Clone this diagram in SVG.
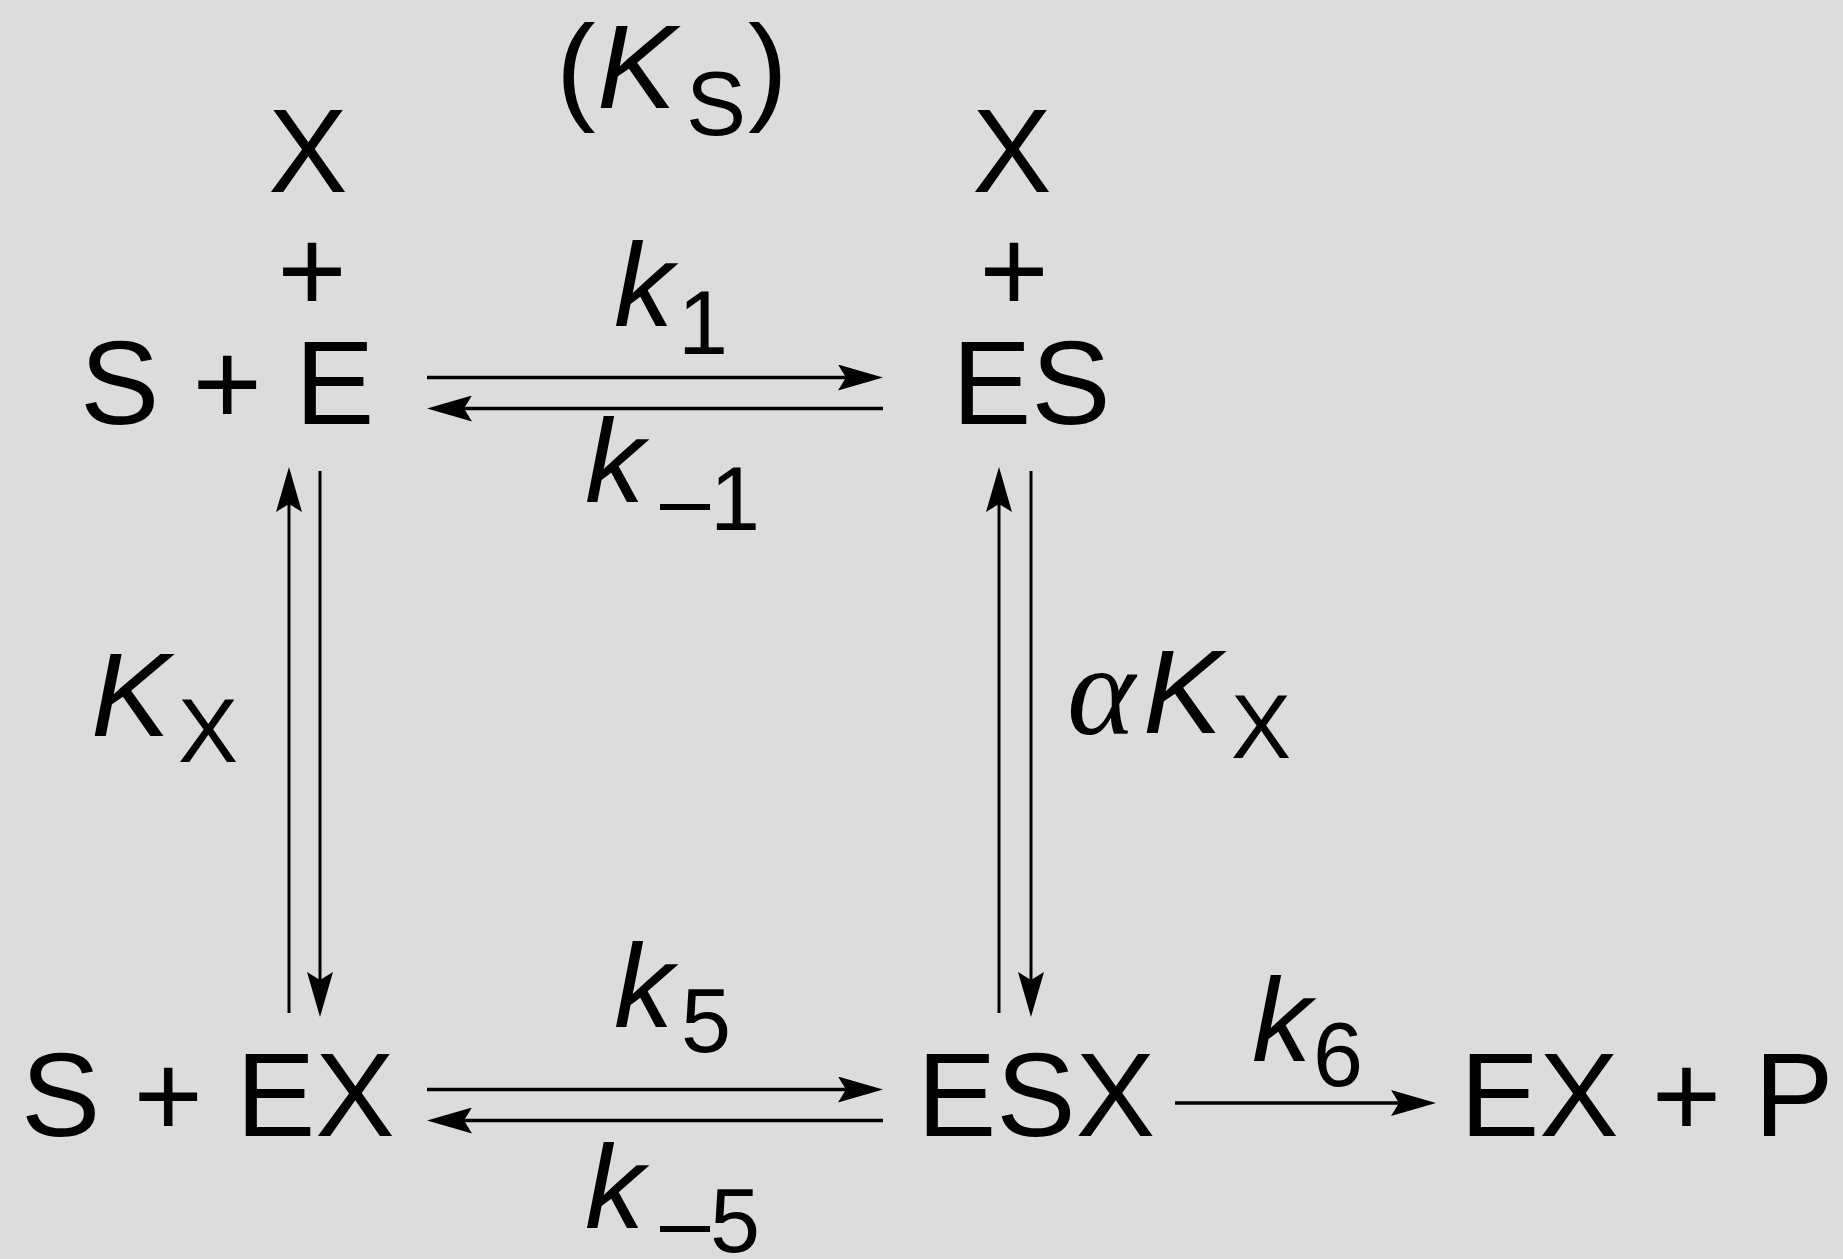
<svg xmlns="http://www.w3.org/2000/svg" width="1843" height="1259" viewBox="0 0 1843 1259">
<style>
.t{font-family:"Liberation Sans",Arial,sans-serif;font-size:119px;fill:#000}
.i{font-family:"Liberation Sans",Arial,sans-serif;font-size:119px;font-style:italic;fill:#000}
.s{font-family:"Liberation Sans",Arial,sans-serif;font-size:90px;fill:#000}
.a{font-family:"Liberation Serif","Times New Roman",serif;font-size:130px;font-style:italic;fill:#000}
.h{stroke:#000;stroke-width:3.5;fill:none}
.v{stroke:#000;stroke-width:3;fill:none}
</style>
<defs>
<marker id="ah" viewBox="0 0 46 26" markerWidth="46" markerHeight="26" refX="35" refY="13" orient="auto" markerUnits="userSpaceOnUse">
<path d="M0,0 L45,13 L0,26 L8,13 Z" fill="#000"/>
</marker>
</defs>
<rect width="1843" height="1259" fill="#dcdcdc"/>
<g id="node-SE">
<text class="t" x="308" y="192" text-anchor="middle">X</text>
<text class="t" x="312" y="311" text-anchor="middle">+</text>
<text class="t" x="80" y="424">S + E</text>
</g>
<g id="node-ES">
<text class="t" x="1012" y="192" text-anchor="middle">X</text>
<text class="t" x="1014" y="311" text-anchor="middle">+</text>
<text class="t" x="952" y="424">ES</text>
</g>
<g id="node-SEX">
<text class="t" x="21" y="1136">S + EX</text>
</g>
<g id="node-ESX">
<text class="t" x="917" y="1136">ESX</text>
</g>
<g id="node-EXP">
<text class="t" x="1460" y="1136">EX + P</text>
</g>
<g id="labels">
<g id="label-Ks">
<text class="t" x="556" y="108">(</text>
<text class="i" x="597" y="108">K</text>
<text class="s" x="686" y="135">S</text>
<text class="t" x="748" y="108">)</text>
</g>
<g id="label-k1">
<text class="i" x="614" y="326">k</text>
<text class="s" x="678" y="354">1</text>
</g>
<g id="label-km1">
<text class="i" x="585" y="502">k</text>
<text class="s" x="660" y="530">–1</text>
</g>
<g id="label-Kx">
<text class="i" x="91" y="736">K</text>
<text class="s" x="178" y="762">X</text>
</g>
<g id="label-aKx">
<text class="a" x="1067" y="734">α</text>
<text class="i" x="1143" y="733">K</text>
<text class="s" x="1231" y="758">X</text>
</g>
<g id="label-k5">
<text class="i" x="614" y="1027">k</text>
<text class="s" x="681" y="1052">5</text>
</g>
<g id="label-km5">
<text class="i" x="585" y="1228">k</text>
<text class="s" x="660" y="1252">–5</text>
</g>
<g id="label-k6">
<text class="i" x="1252" y="1061">k</text>
<text class="s" x="1313" y="1086">6</text>
</g>
</g>
<g id="connectors">
<line class="h" x1="427" y1="377.5" x2="873" y2="377.5" marker-end="url(#ah)"/>
<line class="h" x1="883" y1="408.5" x2="437" y2="408.5" marker-end="url(#ah)"/>
<line class="h" x1="427" y1="1089.5" x2="873" y2="1089.5" marker-end="url(#ah)"/>
<line class="h" x1="883" y1="1120.5" x2="437" y2="1120.5" marker-end="url(#ah)"/>
<line class="h" x1="1175" y1="1103" x2="1426" y2="1103" marker-end="url(#ah)"/>
<line class="v" x1="289" y1="1013" x2="289" y2="477" marker-end="url(#ah)"/>
<line class="v" x1="320" y1="471" x2="320" y2="1007" marker-end="url(#ah)"/>
<line class="v" x1="999" y1="1013" x2="999" y2="477" marker-end="url(#ah)"/>
<line class="v" x1="1031" y1="471" x2="1031" y2="1007" marker-end="url(#ah)"/>
</g>
</svg>
